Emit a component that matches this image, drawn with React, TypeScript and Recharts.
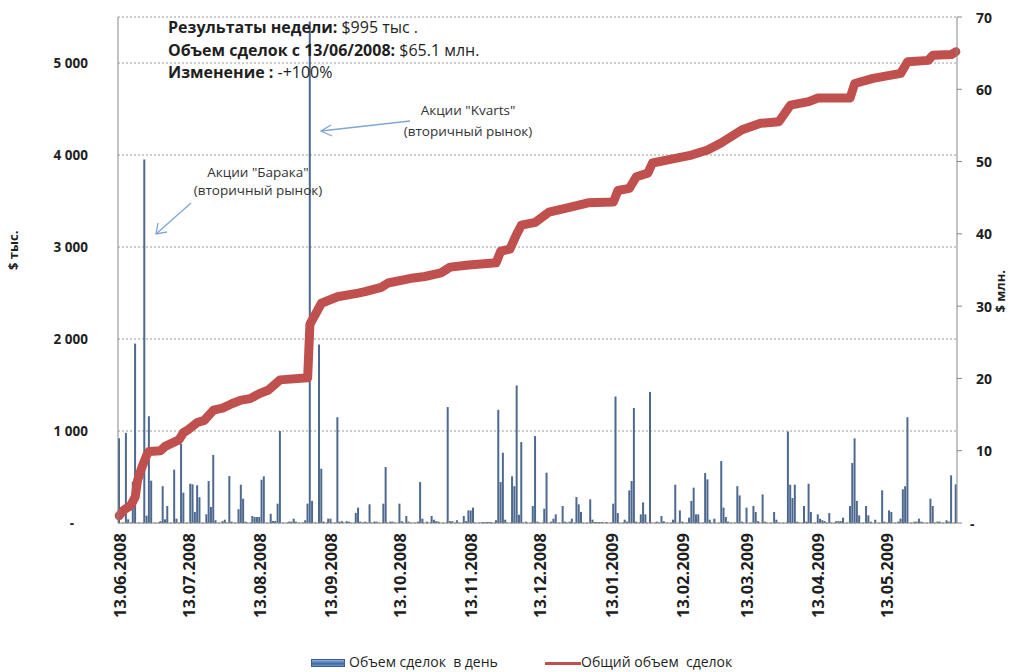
import { ComposedChart, Bar, Line, XAxis, YAxis, CartesianGrid, Legend } from "recharts";

// дневной объем сделок, $ тыс. — [номер дня от 13.06.2008, значение]
const dailyVolume: [number, number][] = [
  [0, 920], [3, 980], [4, 40], [6, 450], [7, 1950], [11, 3950], [12, 80], [13, 1160], [14, 460],
  [18, 20], [19, 400], [20, 40], [21, 185], [24, 580], [25, 47], [27, 860], [28, 330], [31, 427],
  [32, 420], [33, 120], [34, 410], [35, 280], [38, 95], [39, 456], [40, 175], [41, 740], [42, 30],
  [45, 20], [46, 36], [48, 510], [49, 15], [52, 150], [53, 416], [54, 264], [55, 15], [58, 76],
  [59, 65], [60, 65], [61, 65], [62, 470], [63, 507], [66, 100], [67, 22], [68, 22], [69, 210],
  [70, 1000], [74, 15], [75, 15], [76, 47], [77, 15], [81, 30], [82, 210], [83, 5450], [84, 240],
  [87, 1940], [88, 590], [89, 15], [91, 47], [92, 47], [95, 1150], [96, 15], [97, 20], [99, 20],
  [100, 15], [103, 110], [104, 167], [105, 15], [107, 15], [109, 203], [111, 15], [112, 15],
  [115, 210], [116, 608], [118, 15], [119, 15], [122, 210], [123, 20], [125, 76], [126, 15],
  [130, 15], [131, 445], [132, 47], [134, 15], [136, 76], [137, 36], [138, 20], [139, 15],
  [143, 1260], [144, 20], [145, 20], [147, 30], [150, 76], [151, 20], [152, 137], [153, 137],
  [154, 167], [158, 10], [159, 10], [160, 10], [161, 10], [162, 10], [164, 30], [165, 1230],
  [166, 445], [167, 764], [168, 36], [171, 507], [172, 400], [173, 1495], [174, 90], [175, 880],
  [177, 15], [180, 185], [181, 945], [182, 15], [185, 155], [186, 547], [188, 15], [189, 47],
  [190, 94], [193, 185], [194, 15], [196, 15], [197, 47], [199, 282], [200, 203], [201, 120],
  [205, 257], [206, 36], [207, 10], [208, 10], [209, 10], [210, 10], [212, 10], [215, 210],
  [216, 1375], [217, 108], [220, 36], [221, 15], [222, 355], [223, 456], [224, 1250], [225, 15],
  [227, 94], [228, 224], [229, 94], [231, 1425], [234, 15], [236, 76], [237, 20], [241, 36],
  [242, 416], [244, 137], [245, 15], [248, 58], [249, 240], [250, 384], [251, 94], [252, 94],
  [255, 543], [256, 474], [257, 36], [259, 47], [262, 673], [263, 167], [264, 65], [265, 15],
  [269, 400], [270, 300], [271, 15], [273, 167], [276, 185], [277, 120], [278, 20], [280, 311],
  [281, 15], [285, 120], [286, 36], [291, 995], [292, 416], [293, 271], [294, 416], [295, 15],
  [298, 185], [299, 15], [300, 427], [301, 120], [304, 94], [305, 47], [306, 30], [307, 20],
  [309, 108], [312, 20], [313, 20], [314, 20], [315, 58], [318, 185], [319, 652], [320, 920],
  [321, 240], [322, 83], [325, 185], [326, 83], [327, 15], [329, 36], [332, 355], [333, 15],
  [335, 137], [336, 120], [339, 15], [340, 47], [341, 366], [342, 400], [343, 1150], [346, 15],
  [347, 15], [348, 47], [349, 15], [353, 264], [354, 185], [356, 15], [357, 15], [360, 30],
  [361, 15], [362, 518], [364, 420],
];

// общий объем сделок нарастающим итогом, $ млн. — [номер дня, значение]
const totalVolume: [number, number][] = [
  [0, 1.0], [2, 1.8], [5, 2.4], [7, 3.6], [8, 5.9], [10, 7.8], [12, 9.4], [13, 9.9], [18, 10.0],
  [20, 10.6], [26, 11.5], [28, 12.5], [30, 12.9], [34, 13.9], [37, 14.2], [41, 15.6], [45, 15.9],
  [49, 16.5], [53, 17.0], [57, 17.2], [61, 17.9], [65, 18.4], [70, 19.8], [82, 20.1], [83, 27.5],
  [88, 30.4], [95, 31.3], [104, 31.8], [107, 32.0], [114, 32.6], [117, 33.2], [128, 33.9],
  [133, 34.1], [140, 34.6], [144, 35.4], [152, 35.7], [164, 36.0], [166, 37.6], [170, 37.9],
  [173, 40.0], [175, 41.2], [181, 41.6], [187, 43.0], [195, 43.6], [204, 44.3], [215, 44.4],
  [217, 46.0], [222, 46.3], [225, 47.9], [230, 48.4], [232, 49.8], [243, 50.5], [249, 50.9],
  [256, 51.6], [262, 52.6], [271, 54.4], [279, 55.3], [287, 55.5], [292, 57.8], [300, 58.3],
  [304, 58.8], [318, 58.8], [320, 60.8], [328, 61.5], [340, 62.2], [343, 63.8], [352, 64.0],
  [354, 64.7], [362, 64.8], [364, 65.2],
];

const tickLabels = [
  "13.06.2008", "13.07.2008", "13.08.2008", "13.09.2008", "13.10.2008", "13.11.2008",
  "13.12.2008", "13.01.2009", "13.02.2009", "13.03.2009", "13.04.2009", "13.05.2009",
];

const leftTicks = [0, 1000, 2000, 3000, 4000, 5000];
const rightTicks = [0, 10, 20, 30, 40, 50, 60, 70];

const DAYS = 365;
const font = "'Open Sans', sans-serif";
const dark = "#1f1f1f";
const axisGray = "#868686";

function fmtDate(d: Date) {
  const dd = String(d.getDate()).padStart(2, "0");
  const mm = String(d.getMonth() + 1).padStart(2, "0");
  return `${dd}.${mm}.${d.getFullYear()}`;
}

const volMap = new Map(dailyVolume);
const totalMap = new Map(totalVolume);

const data = Array.from({ length: DAYS }, (_, i) => ({
  date: fmtDate(new Date(2008, 5, 13 + i)),
  vol: volMap.get(i) ?? 0,
  total: totalMap.get(i) ?? null,
}));

function LeftTick(props: any) {
  const { x, y, payload } = props;
  const v = payload.value as number;
  const label = v === 0 ? "-" : v.toLocaleString("ru-RU").replace(/\s/g, " ");
  return (
    <text x={v === 0 ? x - 14 : x} y={y} textAnchor="end" dominantBaseline="central"
      fontFamily={font} fontWeight={700} fontSize={13.5} fill={dark}>
      {label}
    </text>
  );
}

function RightTick(props: any) {
  const { x, y, payload } = props;
  const v = payload.value as number;
  return (
    <text x={v === 0 ? x - 6 : x} y={y} textAnchor="start" dominantBaseline="central"
      fontFamily={font} fontWeight={700} fontSize={14} fill={dark}>
      {v === 0 ? "-" : v}
    </text>
  );
}

function DateTick(props: any) {
  const { x, y, payload } = props;
  return (
    <text x={x} y={y} transform={`rotate(-90 ${x} ${y})`} textAnchor="end" dominantBaseline="central"
      fontFamily={font} fontWeight={700} fontSize={16.5} fill={dark}>
      {payload.value}
    </text>
  );
}

function LegendBox() {
  return (
    <div style={{ position: "relative", height: 20, fontFamily: font, fontSize: 14, color: dark }}>
      <div style={{
        position: "absolute", left: 311, top: 6, width: 34, height: 8,
        background: "linear-gradient(#8fb0dc, #3f6aa8 60%, #6f93c6)", border: "1px solid #3a5f95",
        boxSizing: "border-box",
      }} />
      <span style={{ position: "absolute", left: 349, top: -1, whiteSpace: "pre" }}>Объем сделок  в день</span>
      <div style={{ position: "absolute", left: 545, top: 9, width: 36, height: 3, background: "#C0504D" }} />
      <span style={{ position: "absolute", left: 581, top: -1, whiteSpace: "pre" }}>Общий объем  сделок</span>
    </div>
  );
}

export default function App() {
  const arrow = "#7FA6D6";
  return (
    <div style={{ position: "absolute", left: 0, top: 0, width: 1012, height: 672, background: "#fff" }}>
      <ComposedChart width={1012} height={672} data={data} margin={{ top: 17, right: 0, bottom: 49, left: 0 }}>
        <CartesianGrid yAxisId="left" vertical={false} stroke="#9a9a9a" strokeDasharray="2 2" />
        <XAxis
          dataKey="date"
          ticks={tickLabels}
          interval={0}
          height={100}
          tick={<DateTick />}
          tickLine={false}
          tickSize={0}
          tickMargin={10}
          axisLine={{ stroke: axisGray }}
        />
        <YAxis
          yAxisId="left"
          width={118}
          domain={[0, 5500]}
          ticks={leftTicks}
          tick={<LeftTick />}
          tickLine={false}
          tickSize={0}
          tickMargin={30}
          axisLine={{ stroke: axisGray }}
          label={{ value: "$ тыс.", angle: -90, position: "insideLeft", offset: 13,
            style: { fontFamily: font, fontWeight: 700, fontSize: 13, fill: dark } }}
        />
        <YAxis
          yAxisId="right"
          orientation="right"
          width={55}
          domain={[0, 70]}
          ticks={rightTicks}
          tick={<RightTick />}
          tickSize={5}
          tickMargin={14}
          tickLine={{ stroke: axisGray }}
          axisLine={{ stroke: axisGray }}
          label={{ value: "$ млн.", angle: -90, position: "insideRight", offset: 12,
            style: { fontFamily: font, fontWeight: 700, fontSize: 13, fill: dark } }}
        />
        <Bar yAxisId="left" dataKey="vol" name="Объем сделок  в день" fill="#4D6990"
          barSize={2} isAnimationActive={false} />
        <Line yAxisId="right" dataKey="total" name="Общий объем  сделок" type="linear"
          stroke="#C0504D" strokeWidth={9} strokeLinejoin="round" strokeLinecap="round"
          dot={false} connectNulls isAnimationActive={false} />
        <Legend verticalAlign="middle" content={<LegendBox />}
          wrapperStyle={{ top: 653, left: 0, width: 1012, height: 20 }} />
      </ComposedChart>

      <div style={{ position: "absolute", left: 168, top: 16, fontFamily: font, fontSize: 16, color: dark, lineHeight: "22.5px", whiteSpace: "pre" }}>
        <div><b>Результаты недели:</b> $995 тыс .</div>
        <div><b>Объем сделок с 13/06/2008:</b> $65.1 млн.</div>
        <div><b>Изменение :</b> -+100%</div>
      </div>

      <svg width={1012} height={672} style={{ position: "absolute", left: 0, top: 0, pointerEvents: "none" }}>
        <g fontFamily={font} fontSize={13.5} fill="#333" textAnchor="middle">
          <text x={468} y={115}>Акции "Kvarts"</text>
          <text x={468} y={136}>(вторичный рынок)</text>
          <text x={258} y={177}>Акции "Барака"</text>
          <text x={258} y={195}>(вторичный рынок)</text>
        </g>
        <g stroke={arrow} strokeWidth={1.3} fill="none">
          <line x1={410} y1={121} x2={321} y2={131} />
          <polyline points="331,125 321,131 332,136" />
          <line x1={191} y1={203} x2={156} y2={234} />
          <polyline points="158,223 156,234 167,232" />
        </g>
      </svg>
    </div>
  );
}
